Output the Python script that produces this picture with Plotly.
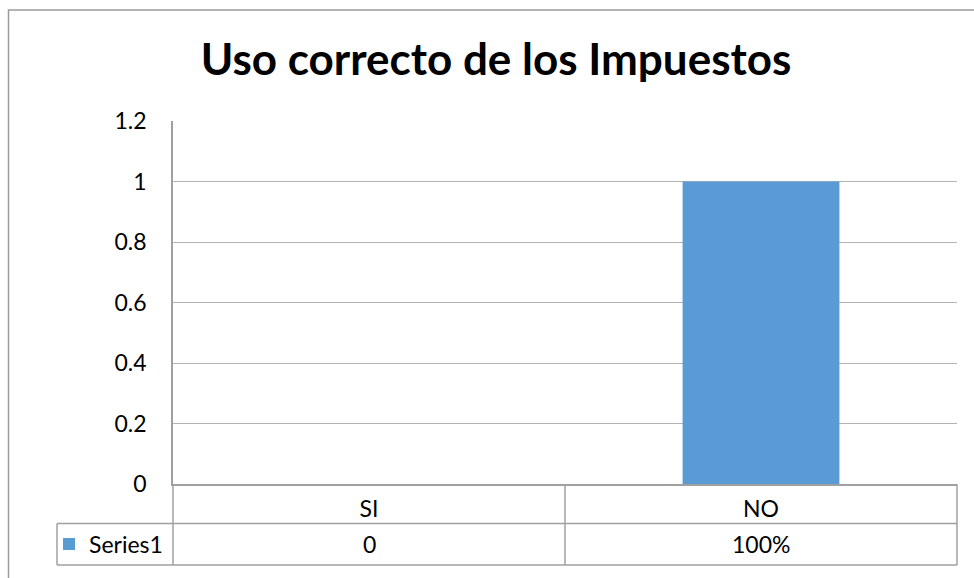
import plotly.graph_objects as go

# chart data
categories = ["SI", "NO"]
values = [0, 1]
value_labels = ["0", "100%"]
series_name = "Series1"
title_text = "Uso correcto de los Impuestos"

# page geometry (px)
W, H = 974, 578
ML, MR, MT, MB = 173, 17, 121, 89
PW, PH = W - ML - MR, H - MT - MB

def px_x(p):
    return (p - ML) / PW

def px_y(p):
    return (H - MB - p) / PH

FONT = "Lato, 'Open Sans', sans-serif"
GRID = "#B3B3B3"
LINE = "#A0A0A0"

fig = go.Figure()
fig.add_trace(go.Bar(x=categories, y=values, name=series_name,
                     marker=dict(color="#5B9BD5", line=dict(width=0)),
                     showlegend=True))

# data table under the plot
row2_y = (px_y(529) + px_y(571)) / 2
for cat, lab in zip(categories, value_labels):
    fig.add_annotation(x=cat, xref="x", y=row2_y, yref="paper", text=lab,
                       showarrow=False, font=dict(size=23, color="black", family=FONT),
                       yanchor="middle")

def line(x0, y0, x1, y1, color=LINE, width=1.5):
    fig.add_shape(type="line", xref="paper", yref="paper",
                  x0=x0, y0=y0, x1=x1, y1=y1, line=dict(color=color, width=width))

line(px_x(57), px_y(529), 1, px_y(529))
line(px_x(57), px_y(571), 1, px_y(571))
line(px_x(57), px_y(529), px_x(57), px_y(571))
line(0, 0, 0, px_y(571))
line(0.5, 0, 0.5, px_y(571))
line(1, 0, 1, px_y(571))

# outer chart border
fig.add_shape(type="rect", xref="paper", yref="paper",
              x0=px_x(8.5), y0=px_y(8.5), x1=px_x(1000), y1=px_y(620),
              line=dict(color="#9A9A9A", width=1.5), fillcolor="rgba(0,0,0,0)")

fig.update_layout(
    width=W, height=H,
    margin=dict(l=ML, r=MR, t=MT, b=MB),
    paper_bgcolor="white", plot_bgcolor="white",
    font=dict(family=FONT, size=23, color="black"),
    title=dict(text="<b>" + title_text + "</b>", x=496 / W, xanchor="center",
               y=1 - 60 / H, yanchor="middle",
               font=dict(size=44, color="black", family=FONT)),
    bargap=0.6,
    legend=dict(x=px_x(49), y=row2_y, xanchor="left", yanchor="middle",
                bgcolor="rgba(0,0,0,0)", font=dict(size=23, color="black"),
                itemwidth=30),
)
fig.update_yaxes(range=[0, 1.2], dtick=0.2, showgrid=True, gridcolor=GRID, gridwidth=1,
                 showline=True, linecolor=LINE, linewidth=1.5, ticks="",
                 ticklabelstandoff=20, zeroline=False)
fig.update_xaxes(showgrid=False, showline=True, linecolor=LINE, linewidth=1.5,
                 ticks="", ticklabelstandoff=4, tickfont=dict(size=23),
                 range=[-0.5, 1.5])

# drop the default body margin so the figure sits at the window origin
fig.write_html("out.html", config={"displayModeBar": False},
               post_script="document.body.style.margin='0';")
